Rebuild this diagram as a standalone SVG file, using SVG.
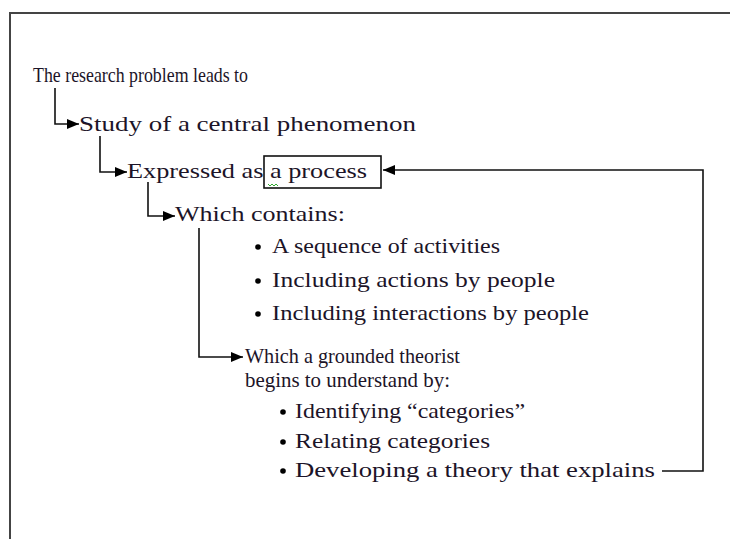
<svg xmlns="http://www.w3.org/2000/svg" width="730" height="539" viewBox="0 0 730 539">
<defs>
<style>
.t{font-family:"Liberation Serif","Times New Roman",serif;font-size:22px;fill:#1c1428}
.ln{fill:none;stroke:#111;stroke-width:1.6}
.frame{fill:none;stroke:#444;stroke-width:2}
.dot{fill:#000}
</style>
<marker id="ah" viewBox="0 0 12 10" refX="12" refY="5" markerWidth="12" markerHeight="10" markerUnits="userSpaceOnUse" orient="auto">
<path d="M0,0 L12,5 L0,10 Z" fill="#000"/>
</marker>
</defs>
<rect width="730" height="539" fill="#fff"/>
<path class="frame" d="M10,540 V13 H731"/>

<g id="connectors">
<path class="ln" d="M55,88 V124 H79" marker-end="url(#ah)"/>
<path class="ln" d="M100,136 V172 H127" marker-end="url(#ah)"/>
<path class="ln" d="M148,182 V216 H175" marker-end="url(#ah)"/>
<path class="ln" d="M199,228 V357 H243" marker-end="url(#ah)"/>
<path class="ln" d="M662,471 H703 V170 H383" marker-end="url(#ah)"/>
</g>

<g id="n1"><text class="t" x="33" y="82" textLength="215" lengthAdjust="spacingAndGlyphs">The research problem leads to</text></g>
<g id="n2"><text class="t" x="79" y="131" textLength="337" lengthAdjust="spacingAndGlyphs">Study of a central phenomenon</text></g>
<g id="n3">
<text class="t" x="127" y="178" textLength="240" lengthAdjust="spacingAndGlyphs">Expressed as a process</text>
<rect x="264" y="156" width="117" height="32" fill="none" stroke="#111" stroke-width="1.6"/>
<path d="M268,184 l2,2 l2,-2 l2,2 l2,-2 l2,2" fill="none" stroke="#3a3" stroke-width="1"/>
</g>
<g id="n4">
<text class="t" x="175" y="221" textLength="170" lengthAdjust="spacingAndGlyphs">Which contains:</text>
<circle class="dot" cx="258" cy="247" r="2.8"/>
<text class="t" x="272" y="253" textLength="228" lengthAdjust="spacingAndGlyphs">A sequence of activities</text>
<circle class="dot" cx="258" cy="281" r="2.8"/>
<text class="t" x="272" y="287" textLength="283" lengthAdjust="spacingAndGlyphs">Including actions by people</text>
<circle class="dot" cx="258" cy="314" r="2.8"/>
<text class="t" x="272" y="320" textLength="317" lengthAdjust="spacingAndGlyphs">Including interactions by people</text>
</g>
<g id="n5">
<text class="t" x="245" y="363" textLength="215" lengthAdjust="spacingAndGlyphs">Which a grounded theorist</text>
<text class="t" x="245" y="387" textLength="205" lengthAdjust="spacingAndGlyphs">begins to understand by:</text>
<circle class="dot" cx="283" cy="412" r="2.8"/>
<text class="t" x="295" y="418" textLength="230" lengthAdjust="spacingAndGlyphs">Identifying “categories”</text>
<circle class="dot" cx="283" cy="442" r="2.8"/>
<text class="t" x="295" y="448" textLength="195" lengthAdjust="spacingAndGlyphs">Relating categories</text>
<circle class="dot" cx="283" cy="471" r="2.8"/>
<text class="t" x="295" y="477" textLength="360" lengthAdjust="spacingAndGlyphs">Developing a theory that explains</text>
</g>
</svg>
